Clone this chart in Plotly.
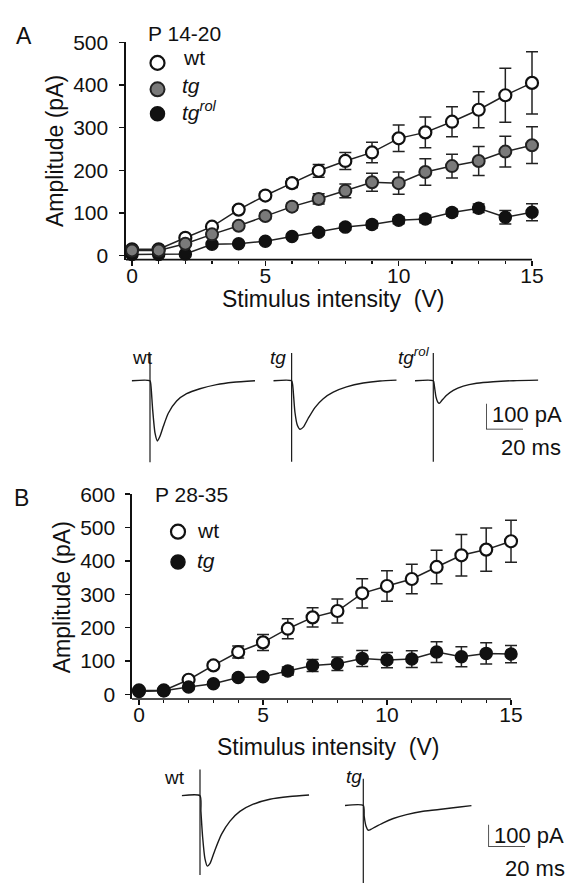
import plotly.graph_objects as go

# ---------------- data ----------------
stimulus_V = list(range(16))

# Panel A (P 14-20)
A_wt = [15, 15, 42, 68, 108, 141, 170, 199, 222, 242, 275, 289, 314, 342, 376, 405]
A_wt_err = [4, 4, 5, 6, 7, 8, 10, 15, 20, 24, 31, 36, 35, 42, 63, 73]
A_tg = [12, 12, 28, 50, 70, 93, 115, 133, 152, 172, 170, 196, 210, 222, 244, 259]
A_tg_err = [4, 4, 5, 5, 6, 7, 8, 12, 16, 21, 26, 31, 28, 34, 36, 43]
A_rol = [3, 3, 4, 27, 28, 34, 45, 55, 67, 73, 83, 86, 101, 111, 90, 102]
A_rol_err = [2, 2, 2, 3, 3, 4, 5, 6, 7, 8, 8, 9, 8, 10, 16, 20]

# Panel B (P 28-35)
B_wt = [12, 12, 44, 87, 127, 156, 197, 231, 250, 303, 325, 346, 382, 417, 434, 459]
B_wt_err = [4, 4, 6, 10, 18, 24, 30, 29, 36, 44, 46, 44, 50, 62, 65, 63]
B_tg = [9, 11, 22, 32, 51, 53, 70, 87, 92, 108, 103, 106, 127, 113, 123, 121]
B_tg_err = [4, 4, 5, 6, 7, 8, 12, 18, 20, 24, 23, 25, 31, 30, 32, 26]

# Example current recordings (time in ms, current in pA)
A_wt_t = [0, 9.9, 10.4, 11.35, 12.6, 13.9, 15.3, 17.1, 19.8, 24.3, 29.7, 36.9, 45.9, 55.0, 66.7]
A_wt_I = [0, 0, -19, -112, -200, -231, -213, -175, -125, -78, -50, -31, -15, -6, 0]
A_tg_t = [0, 9.9, 10.45, 11.7, 13.0, 14.4, 16.2, 18.9, 22.5, 27.0, 32.4, 39.6, 48.6, 57.7, 66.7]
A_tg_I = [0, 0, -15, -121, -171, -186, -178, -144, -103, -69, -44, -24, -9, -1, 2]
A_rol_t = [0, 9.9, 10.45, 11.35, 12.25, 13.15, 14.4, 17.1, 20.7, 26.1, 33.3, 42.3, 53.2, 66.7]
A_rol_I = [0, 0, -19, -62, -81, -87, -77, -56, -37, -21, -10, -4, 0, 2]
B_wt_t = [0, 10, 10.5, 11.45, 12.7, 14.0, 15.5, 18.2, 21.8, 26.4, 31.8, 39.1, 48.2, 59.1, 69.6]
B_wt_I = [0, 0, -70, -185, -280, -313, -301, -241, -171, -113, -70, -38, -16, -4, 3]
B_tg_t = [0, 10, 10.5, 11.45, 12.7, 14.0, 16.4, 20.9, 26.4, 33.6, 42.7, 53.6, 62.7, 69.1]
B_tg_I = [0, 0, -48, -91, -110, -107, -96, -77, -58, -41, -26, -16, -7, -1]

# stimulus artifacts (time, [top, bottom] pA)
A_wt_art = (9.9, [103, -313])
A_tg_art = (9.9, [106, -311])
A_rol_art = (9.9, [106, -311])
B_wt_art = (10.0, [116, -352])
B_tg_art = (10.0, [119, -345])

# scale bars: 20 ms, 100 pA
scale_t = [0, 0, 20]
scale_I = [100, 0, 0]

# ---------------- layout helpers ----------------
W, H = 583, 892
FONT = "Liberation Sans, Arial, sans-serif"
INK = "#111111"
GRAY = "#7a7a7a"


def dx(a, b):
    return [a / W, b / W]


def dy(top, bottom):
    return [1 - bottom / H, 1 - top / H]


fig = go.Figure()

marker_wt = dict(symbol="circle", size=12, color="white", line=dict(color=INK, width=2.2))
marker_tg = dict(symbol="circle", size=12, color=GRAY, line=dict(color="#222222", width=2))
marker_blk = dict(symbol="circle", size=12, color=INK, line=dict(color=INK, width=1.5))


def series(x, y, err, marker, xa, ya):
    fig.add_trace(go.Scatter(
        x=x, y=y, mode="lines+markers", xaxis=xa, yaxis=ya,
        line=dict(color="#222222", width=1.5), marker=marker, cliponaxis=False,
        error_y=dict(type="data", array=err, color="#222222", thickness=1.5, width=6),
        showlegend=False, hoverinfo="skip"))


# Panel A
series(stimulus_V, A_rol, A_rol_err, marker_blk, "x", "y")
series(stimulus_V, A_wt, A_wt_err, marker_wt, "x", "y")
series(stimulus_V, A_tg, A_tg_err, marker_tg, "x", "y")
# Panel B
series(stimulus_V, B_wt, B_wt_err, marker_wt, "x2", "y2")
series(stimulus_V, B_tg, B_tg_err, marker_blk, "x2", "y2")


def recording(t, I, art, n):
    xa, ya = "x%d" % n, "y%d" % n
    fig.add_trace(go.Scatter(x=t, y=I, mode="lines", xaxis=xa, yaxis=ya,
                             line=dict(color="#1a1a1a", width=1.4, shape="spline", smoothing=0.6),
                             showlegend=False, hoverinfo="skip", cliponaxis=False))
    fig.add_trace(go.Scatter(x=[art[0], art[0]], y=art[1], mode="lines", xaxis=xa, yaxis=ya,
                             line=dict(color="#1a1a1a", width=1.2),
                             showlegend=False, hoverinfo="skip", cliponaxis=False))


recording(A_wt_t, A_wt_I, A_wt_art, 3)
recording(A_tg_t, A_tg_I, A_tg_art, 4)
recording(A_rol_t, A_rol_I, A_rol_art, 5)
recording(B_wt_t, B_wt_I, B_wt_art, 6)
recording(B_tg_t, B_tg_I, B_tg_art, 7)

for n in (8, 9):
    fig.add_trace(go.Scatter(x=scale_t, y=scale_I, mode="lines", xaxis="x%d" % n, yaxis="y%d" % n,
                             line=dict(color="#1a1a1a", width=1.5),
                             showlegend=False, hoverinfo="skip", cliponaxis=False))

TICKFONT = dict(size=21, family=FONT, color=INK)
main_axis = dict(ticks="outside", ticklen=5, tickwidth=1.6, tickcolor=INK, showgrid=False,
                 zeroline=False, tickfont=TICKFONT, fixedrange=True)
minor = dict(ticks="outside", ticklen=3, tickwidth=1.2, tickcolor=INK, dtick=1, tick0=0)
hidden = dict(visible=False, fixedrange=True, showgrid=False, zeroline=False)

# x axes extended a bit past 15 so end error bars are not clipped; the visible axis line
# (drawn as a shape below) stops at 15 as in the original.
layout = dict(
    width=W, height=H, margin=dict(l=0, r=0, t=0, b=0),
    paper_bgcolor="white", plot_bgcolor="rgba(0,0,0,0)",
    font=dict(family=FONT, color=INK),
    showlegend=False,
    xaxis=dict(main_axis, domain=dx(126, 532 + 0.5 * 26.667), range=[-0.225, 15.5], anchor="y",
               tickvals=[0, 5, 10, 15], showline=False, minor=minor, ticklabelstandoff=-8),
    yaxis=dict(main_axis, domain=dy(31, 253), range=[-9.17, 500], anchor="x",
               tickvals=[0, 100, 200, 300, 400, 500], showline=True, linecolor=INK, linewidth=1.6,
               ticklabelstandoff=7),
    xaxis2=dict(main_axis, domain=dx(132, 511 + 0.5 * 24.8), range=[-0.282, 15.5], anchor="y2",
                tickvals=[0, 5, 10, 15], showline=False, minor=minor, ticklabelstandoff=-8),
    yaxis2=dict(main_axis, domain=dy(492.7, 702), range=[-13.8, 600], anchor="x2",
                tickvals=[0, 100, 200, 300, 400, 500, 600], showline=True, linecolor=INK,
                linewidth=1.6, ticklabelstandoff=6),
    # insets panel A
    xaxis3=dict(hidden, domain=dx(131.7, 255.0), range=[0, 66.7], anchor="y3"),
    yaxis3=dict(hidden, domain=dy(345, 462), range=[-320, 119], anchor="x3"),
    xaxis4=dict(hidden, domain=dx(273.3, 396.7), range=[0, 66.7], anchor="y4"),
    yaxis4=dict(hidden, domain=dy(345, 462), range=[-320, 119], anchor="x4"),
    xaxis5=dict(hidden, domain=dx(415.0, 538.3), range=[0, 66.7], anchor="y5"),
    yaxis5=dict(hidden, domain=dy(345, 462), range=[-320, 119], anchor="x5"),
    # insets panel B
    xaxis6=dict(hidden, domain=dx(181.7, 309.8), range=[0, 70], anchor="y6"),
    yaxis6=dict(hidden, domain=dy(770, 885), range=[-366.5, 133.5], anchor="x6"),
    xaxis7=dict(hidden, domain=dx(345.0, 473.1), range=[0, 70], anchor="y7"),
    yaxis7=dict(hidden, domain=dy(780, 892), range=[-353.5, 133.5], anchor="x7"),
    # scale bars
    xaxis8=dict(hidden, domain=dx(486, 523), range=[0, 20], anchor="y8"),
    yaxis8=dict(hidden, domain=dy(400, 426.7), range=[0, 100], anchor="x8"),
    xaxis9=dict(hidden, domain=dx(488.3, 525), range=[0, 20], anchor="y9"),
    yaxis9=dict(hidden, domain=dy(830.3, 853.3), range=[0, 100], anchor="x9"),
)
fig.update_layout(layout)

annotations = []


def ann(text, x, y, size=21, xanchor="center", angle=0):
    annotations.append(dict(text=text, x=x / W, y=1 - y / H, xref="paper", yref="paper",
                            xanchor=xanchor, yanchor="middle", showarrow=False, textangle=angle,
                            font=dict(size=size, family=FONT, color=INK)))


ann("A", 24, 25, 23)
ann("B", 21, 497, 23)
ann("Amplitude (pA)", 55, 142, 23, angle=-90)
ann("Amplitude (pA)", 62, 598, 23, angle=-90)
ann("Stimulus intensity\u00a0 (V)", 333, 293, 23)
ann("Stimulus intensity\u00a0 (V)", 328, 751, 23)
ann("P 14-20", 146, 22, 21, xanchor="left")
ann("P 28-35", 153, 493, 21, xanchor="left")
# legend texts
ann("wt", 181, 47, 21, xanchor="left")
ann("<i>tg</i>", 180, 75, 21, xanchor="left")
ann("<i>tg</i><sup><i>rol</i></sup>", 180, 101, 21, xanchor="left")
ann("wt", 195, 530, 21, xanchor="left")
ann("<i>tg</i>", 195, 560, 21, xanchor="left")
# inset labels
ann("wt", 130, 353, 19, xanchor="left")
ann("<i>tg</i>", 268, 353, 19, xanchor="left")
ann("<i>tg</i><sup><i>rol</i></sup>", 396, 351, 19, xanchor="left")
ann("wt", 162, 782, 19, xanchor="left")
ann("<i>tg</i>", 344, 781, 19, xanchor="left")
# scale bar labels
ann("100 pA", 490, 411, 22, xanchor="left")
ann("20 ms", 531, 445, 22)
ann("100 pA", 492, 841, 22, xanchor="left")
ann("20 ms", 535, 875, 22)
fig.update_layout(annotations=annotations)

shapes = []


def legend_dot(cx, cy, fill, line_color, lw, r=7):
    shapes.append(dict(type="circle", xref="paper", yref="paper", xsizemode="pixel", ysizemode="pixel",
                       xanchor=cx / W, yanchor=1 - cy / H, x0=-r, x1=r, y0=-r, y1=r,
                       fillcolor=fill, line=dict(color=line_color, width=lw)))


legend_dot(157.5, 52, "white", INK, 2.2)
legend_dot(157.5, 79, GRAY, "#222222", 2)
legend_dot(157.5, 104, INK, INK, 1.5)
legend_dot(178, 531, "white", INK, 2.2)
legend_dot(178, 562, INK, INK, 1.5)

# x-axis lines, ending at 15 V
shapes.append(dict(type="line", xref="x", yref="y domain", x0=-0.225, x1=15, y0=0, y1=0,
                   line=dict(color=INK, width=1.6), layer="below"))
shapes.append(dict(type="line", xref="x2", yref="y2 domain", x0=-0.282, x1=15, y0=0, y1=0,
                   line=dict(color=INK, width=1.6), layer="below"))
fig.update_layout(shapes=shapes)

fig.write_html("out.html",
               config={"displayModeBar": False, "staticPlot": True},
               post_script="document.body.style.margin='0';document.body.style.padding='0';"
                           "document.body.style.overflow='hidden';")
